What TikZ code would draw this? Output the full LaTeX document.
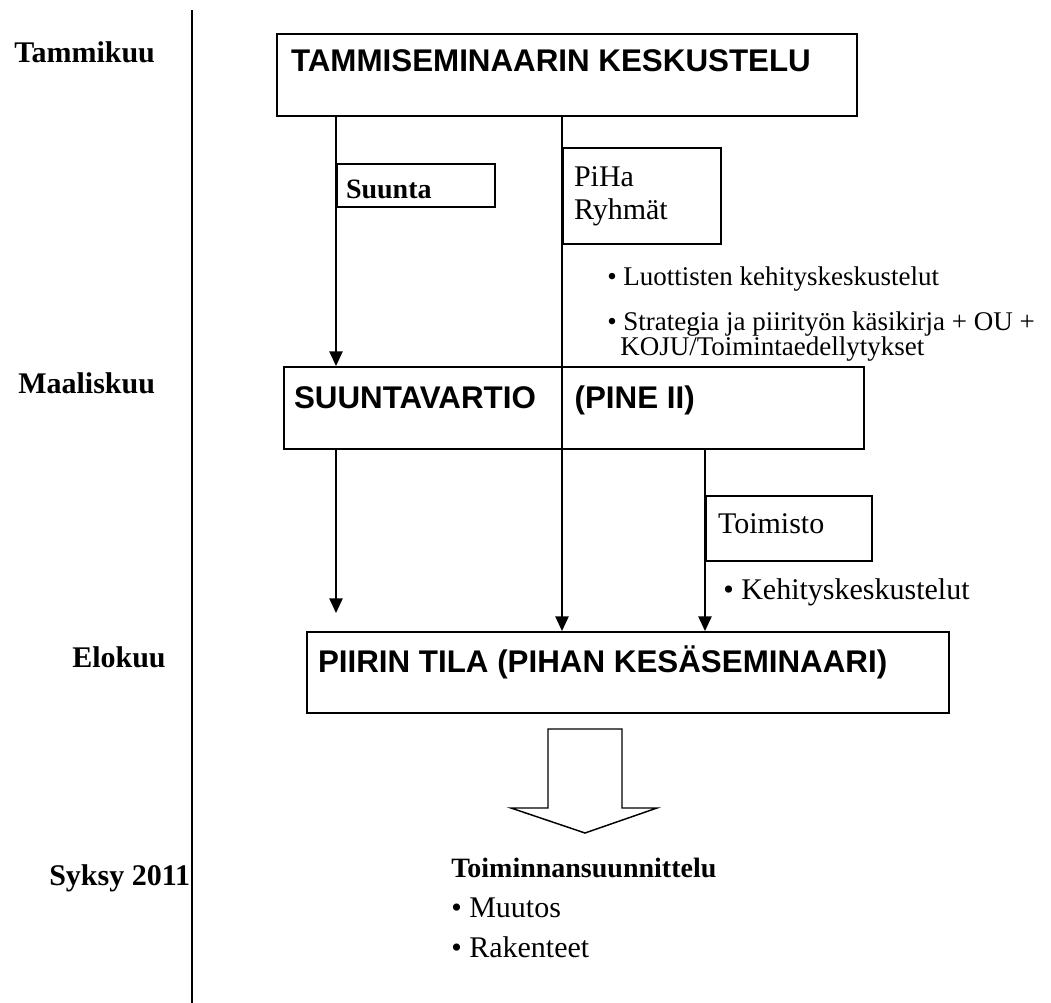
\documentclass[tikz,border=0pt]{standalone}
\usepackage{fontspec}
\setmainfont{Liberation Serif}
\newfontfamily\boxfont{Liberation Sans}
\usepackage{tikz}
\usetikzlibrary{arrows.meta}

\begin{document}
\begin{tikzpicture}[x=0.75pt,y=-0.75pt,
		month/.style={anchor=base west, inner sep=0pt, font=\fontsize{22.5}{27}\selectfont\bfseries},
		bigbox/.style={draw, line width=1.5pt, fill=white, anchor=north west, inner ysep=0pt, align=flush left, font=\boxfont\fontsize{23.5}{28}\selectfont\bfseries},
		smallbox/.style={draw, line width=1.5pt, fill=white, anchor=north west, inner ysep=0pt, align=flush left, font=\fontsize{22.5}{24.75}\selectfont},
		note/.style={anchor=base west, inner sep=0pt, align=flush left},
		flow/.style={line width=1.1pt, -{Triangle[length=11pt,width=10pt]}}]
		
		\useasboundingbox (0,0) rectangle (1051,1003);
		
		\draw[line width=1.1pt] (192,10) -- (192,1003);
		
		\node (jan) at (14,62) [month] {Tammikuu};
		\node (mar) at (18,393) [month] {Maaliskuu};
		\node (aug) at (72,667) [month] {Elokuu};
		\node (aut) at (49,885) [month] {Syksy 2011};
		
		\node (luott) at (607,285) [note, font=\fontsize{20.25}{25}\selectfont] {\textbullet\ Luottisten kehityskeskustelut};
		\node (strat) at (607,330) [note, text width=380pt, font=\fontsize{20.25}{18.75}\selectfont] {\textbullet\ Strategia ja piirityön käsikirja + OU +\\\hspace*{9.75pt}KOJU/Toimintaedellytykset};
		\node (kehitys) at (723,599) [note, font=\fontsize{22.5}{27}\selectfont] {\textbullet\ Kehityskeskustelut};
		
		\node (tammi) at (276,33) [bigbox, inner xsep=10.5pt, text width=414pt, text height=27.75pt, text depth=33.75pt] {TAMMISEMINAARIN KESKUSTELU};
		\node (suunta) at (336,163) [smallbox, font=\fontsize{21}{24}\selectfont\bfseries, inner xsep=6.75pt, text width=105pt, text height=25.5pt, text depth=6.75pt] {Suunta};
		\node (piha) at (562,147) [smallbox, inner xsep=8.25pt, text width=102pt, text height=28.5pt, text depth=43.5pt] {PiHa\\Ryhmät};
		\node (vartio) at (283,366) [bigbox, inner xsep=7.5pt, text width=420pt, text height=30.75pt, text depth=30.75pt] {SUUNTAVARTIO\hspace{29pt}(PINE II)};
		\node (toimisto) at (705,495) [smallbox, inner xsep=9pt, text width=106.5pt, text height=27.75pt, text depth=21pt] {Toimisto};
		\node (piirin) at (306,631) [bigbox, inner xsep=8.25pt, text width=465pt, text height=30pt, text depth=30.75pt] {PIIRIN TILA (PIHAN KESÄSEMINAARI)};
		
		\coordinate (leftend) at ([yshift=13.5pt]piirin.north -| suunta.west);
		\draw[flow] (tammi.south -| suunta.west) -- (vartio.north -| suunta.west);
		\draw[flow] (tammi.south -| piha.west) -- (piirin.north -| piha.west);
		\draw[flow] (vartio.south -| suunta.west) -- (leftend);
		\draw[flow] (vartio.south -| toimisto.west) -- (piirin.north -| toimisto.west);
		
		\draw[line width=1.1pt] (548,729) -- (622,729) -- (622,808) -- (657,808) -- (585,833) -- (511,808) -- (548,808) -- cycle;
		
		\node (plan) at (451,877) [note, text width=300pt, font=\fontsize{22.5}{30}\selectfont] {\textbf{\fontsize{21}{30}\selectfont Toiminnansuunnittelu}\\\textbullet\ Muutos\\\textbullet\ Rakenteet};
	\end{tikzpicture}
\end{document}
